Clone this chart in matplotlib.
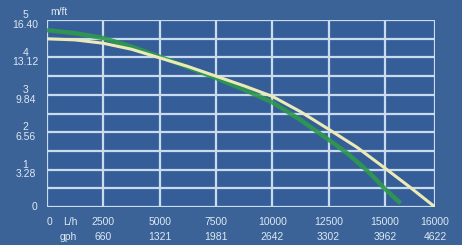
import numpy as np
import matplotlib
matplotlib.use("Agg")
import matplotlib.pyplot as plt
import matplotlib.transforms as mtransforms

# flow in L/h, head in m
flow_yellow = [0, 1250, 2500, 3750, 5000, 6250, 7500, 8750, 10000, 11250,
               12500, 13750, 15000, 15500, 16000]
head_yellow = [4.50, 4.47, 4.38, 4.22, 3.99, 3.76, 3.50, 3.24, 2.96, 2.55,
               2.08, 1.60, 1.04, 0.53, 0.0]

flow_green = [0, 1250, 2500, 3750, 5000, 6250, 7500, 8750, 10000, 11250,
              12500, 13300, 14030, 14500, 14920, 15310]
head_green = [4.73, 4.65, 4.52, 4.29, 4.02, 3.74, 3.45, 3.14, 2.80, 2.33,
              1.80, 1.45, 1.07, 0.80, 0.53, 0.10]

x_ticks = [0, 2500, 5000, 7500, 10000, 12500, 15000, 16000]
gph_labels = ["", "660", "1321", "1981", "2642", "3302", "3962", "4622"]
y_m = [5, 4, 3, 2, 1]
y_ft = ["16.40", "13.12", "9.84", "6.56", "3.28"]

bg = "#3b6398"
plot_bg = "#355e98"
grid_c = "#c9dcef"
txt_c = "#dde8f2"

# last interval (15000-16000) is stretched on the original chart
scale_in = [0, 15000, 16000]
scale_out = [0, 15000, 17220]


def fwd(v):
    return np.interp(v, scale_in, scale_out)


def inv(u):
    return np.interp(u, scale_out, scale_in)


fig = plt.figure(figsize=(4.62, 2.45), dpi=100, facecolor=bg)
ax = fig.add_axes([0.1017, 0.155, 0.8399, 0.763], facecolor=plot_bg)
ax.set_xscale("function", functions=(fwd, inv))
ax.set_xlim(0, 16000)
ax.set_ylim(0, 5)

for v in x_ticks:
    ax.axvline(v, color=grid_c, lw=1.6, zorder=1)
for h in np.arange(0, 5.01, 0.5):
    ax.axhline(h, color=grid_c, lw=1.6, zorder=1)

ax.plot(flow_green, head_green, color="#2e9a4c", lw=3.2, alpha=0.9,
        solid_capstyle="butt", solid_joinstyle="round", zorder=2)
ax.plot(flow_yellow, head_yellow, color="#ecebb8", lw=2.2,
        solid_joinstyle="round", zorder=3)

for s in ax.spines.values():
    s.set_visible(False)
ax.set_xticks([])
ax.set_yticks([])

fs = 7.5
font = "Liberation Sans"
# y labels
ytr = mtransforms.blended_transform_factory(fig.transFigure, ax.transData)
for m, ft in zip(y_m, y_ft):
    ax.text(0.055, m, "%d\n%s" % (m, ft), transform=ytr, ha="center",
            va="center", fontsize=fs, color=txt_c, family=font,
            linespacing=0.95)
ax.text(0.075, 0, "0", transform=ytr, ha="center", va="center",
        fontsize=fs, color=txt_c, family=font)
ax.text(0.108, 0.952, "m/ft", transform=fig.transFigure, ha="left",
        va="center", fontsize=fs, color=txt_c, family=font)

# x labels
xtr = mtransforms.blended_transform_factory(ax.transData, fig.transFigure)
for v, g in zip(x_ticks, gph_labels):
    if v == 0:
        ax.text(v, 0.095, "0", transform=xtr, ha="left", va="center",
                fontsize=fs, color=txt_c, family=font)
        continue
    ax.text(v, 0.095, str(v), transform=xtr, ha="center", va="center",
            fontsize=fs, color=txt_c, family=font)
    ax.text(v, 0.032, g, transform=xtr, ha="center", va="center",
            fontsize=fs, color=txt_c, family=font)
ax.text(0.152, 0.095, "L/h", transform=fig.transFigure, ha="center",
        va="center", fontsize=fs, color=txt_c, family=font)
ax.text(0.148, 0.032, "gph", transform=fig.transFigure, ha="center",
        va="center", fontsize=fs, color=txt_c, family=font)

fig.savefig("out.png", dpi=100, facecolor=bg)
